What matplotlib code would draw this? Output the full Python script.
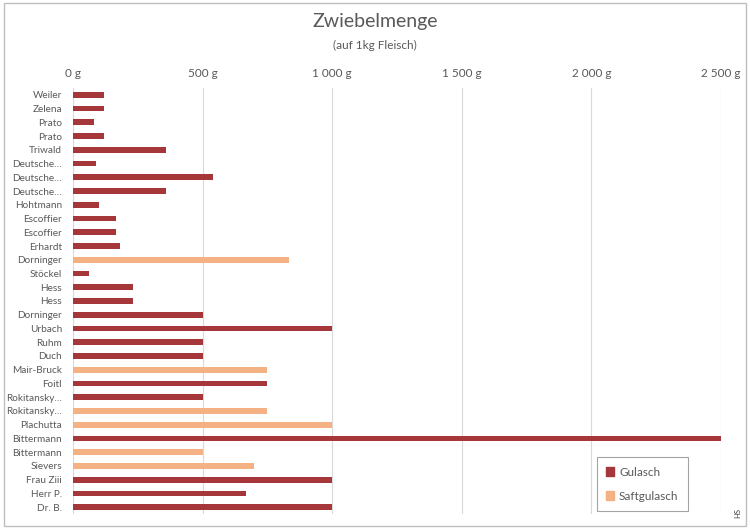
import matplotlib
matplotlib.use("Agg")
import matplotlib.pyplot as plt
from matplotlib.patches import Rectangle, Patch
from matplotlib.ticker import FuncFormatter

plt.rcParams["font.family"] = ["Lato", "DejaVu Sans"]

# data, top to bottom as shown
authors = [
    "Weiler", "Zelena", "Prato", "Prato", "Triwald", "Deutsche…", "Deutsche…",
    "Deutsche…", "Hohtmann", "Escoffier", "Escoffier", "Erhardt", "Dorninger",
    "Stöckel", "Hess", "Hess", "Dorninger", "Urbach", "Ruhm", "Duch",
    "Mair-Bruck", "Foitl", "Rokitansky…", "Rokitansky…", "Plachutta",
    "Bittermann", "Bittermann", "Sievers", "Frau Ziii", "Herr P.", "Dr. B.",
]
gulasch = [
    120, 120, 80, 120, 360, 90, 540, 360, 100, 166, 166, 180, 0,
    60, 233, 233, 500, 1000, 500, 500, 0, 750, 500, 0, 0,
    2500, 0, 0, 1000, 667, 1000,
]
saftgulasch = [
    0, 0, 0, 0, 0, 0, 0, 0, 0, 0, 0, 0, 833,
    0, 0, 0, 0, 0, 0, 0, 750, 0, 0, 750, 1000,
    0, 500, 700, 0, 0, 0,
]

C_GUL = "#A5373A"
C_SAFT = "#F4B183"
TXT = "#595959"

fig = plt.figure(figsize=(7.5, 5.3), dpi=100)
fig.patches.append(Rectangle((4 / 750, 4 / 530), 742 / 750, 523 / 530,
                             transform=fig.transFigure, fill=False,
                             edgecolor="#BFBFBF", linewidth=1))

n = len(authors)
ax = fig.add_axes([73 / 750, 1 - 514 / 530, 648 / 750, 426 / 530])
ypos = list(range(n))
ax.barh(ypos, gulasch, height=0.42, color=C_GUL, label="Gulasch", zorder=3)
ax.barh(ypos, saftgulasch, height=0.42, color=C_SAFT, label="Saftgulasch", zorder=3)

ax.set_ylim(n - 0.5, -0.5)
ax.set_xlim(0, 2500)
ax.set_yticks(ypos)
ax.set_yticklabels(authors, fontsize=7.2, color=TXT)
ax.set_xticks([0, 500, 1000, 1500, 2000, 2500])
ax.xaxis.set_major_formatter(FuncFormatter(lambda v, p: f"{int(v):,} g".replace(",", " ")))
ax.xaxis.tick_top()
ax.tick_params(axis="x", length=0, pad=6.5, labelsize=8.5, labelcolor=TXT)
ax.tick_params(axis="y", length=0, pad=8)
for s in ax.spines.values():
    s.set_visible(False)
ax.grid(axis="x", color="#D9D9D9", linewidth=0.8, zorder=0)

fig.text(0.5, 1 - 22 / 530, "Zwiebelmenge", ha="center", va="center",
         fontsize=14, color=TXT)
fig.text(0.5, 1 - 45 / 530, "(auf 1kg Fleisch)", ha="center", va="center",
         fontsize=8.5, color=TXT)

handles = [Patch(color=C_GUL, label="Gulasch"), Patch(color=C_SAFT, label="Saftgulasch")]
leg = ax.legend(handles=handles, loc="lower right", bbox_to_anchor=(688 / 750, 1 - 511 / 530),
                bbox_transform=fig.transFigure, borderaxespad=0, fontsize=8.5,
                frameon=True, fancybox=False, edgecolor="#8C8C8C",
                handlelength=0.7, handleheight=0.7, handletextpad=0.4,
                labelspacing=1.1, borderpad=0.8)
leg.get_frame().set_linewidth(0.8)
for t in leg.get_texts():
    t.set_color(TXT)

fig.text(738 / 750, 1 - 513 / 530, "HS", rotation=90, ha="center", va="center",
         fontsize=5.5, color="#404040")

fig.savefig("out.png", dpi=100)
